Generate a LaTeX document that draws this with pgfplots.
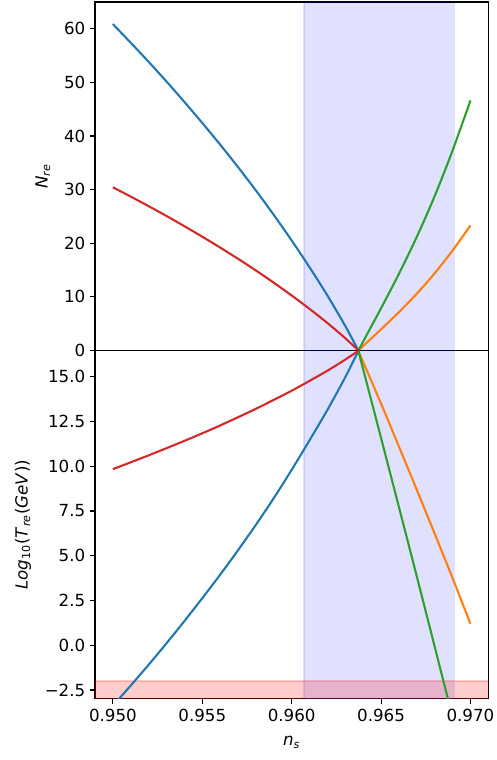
\documentclass[border=0pt]{standalone}
\usepackage{fontspec}
\setmainfont{DejaVu Sans}
\usepackage{pgfplots}
\pgfplotsset{compat=1.18}
\usetikzlibrary{calc}
\definecolor{c0}{HTML}{1F77B4}
\definecolor{c1}{HTML}{FF7F0E}
\definecolor{c2}{HTML}{2CA02C}
\definecolor{c3}{HTML}{D62728}
\begin{document}
\begin{tikzpicture}
\pgfplotsset{
  common/.style={
    scale only axis, width=283.2pt, height=250.9pt,
    xmin=0.949, xmax=0.971,
    axis line style={line width=0.8pt, black},
    tick style={line width=0.8pt, black},
    tick align=outside, major tick length=3.5pt,
    ytick pos=left,
    /pgf/number format/assume math mode=true,
    every tick label/.append style={font=\fontsize{12}{14}\selectfont},
    label style={font=\fontsize{12}{14}\selectfont},
    ylabel style={yshift=3pt},
    xlabel style={yshift=-4pt},
    every axis plot/.append style={line width=1.5pt, line join=round},
  },
  span/.style={fill=blue, fill opacity=0.12, draw=blue, draw opacity=0.12, line width=1pt},
}
\begin{axis}[common, name=top, ymin=0, ymax=65, ytick={0,10,20,30,40,50,60},
  xtick=\empty,
  ylabel={\textit{N}\textsubscript{\textit{re}}}]
\addplot[span] coordinates {(0.9607,0) (0.9691,0) (0.9691,65) (0.9607,65)} -- cycle;
% blue
\addplot[c0, smooth] coordinates {(0.950,60.88) (0.951,57.40) (0.952,53.84) (0.953,50.16) (0.954,46.36) (0.955,42.44) (0.956,38.40) (0.957,34.20) (0.958,29.84) (0.959,25.28) (0.960,20.52) (0.961,15.52) (0.962,10.24) (0.963,4.56) (0.96373,0)};
% orange
\addplot[c1, smooth] coordinates {(0.96373,0) (0.965,3.94) (0.966,7.15) (0.967,10.60) (0.968,14.40) (0.969,18.65) (0.970,23.32)};
% green
\addplot[c2, smooth] coordinates {(0.96373,0) (0.965,7.88) (0.966,14.30) (0.967,21.20) (0.968,28.80) (0.969,37.30) (0.970,46.64)};
% red
\addplot[c3, smooth] coordinates {(0.950,30.44) (0.951,28.70) (0.952,26.92) (0.953,25.08) (0.954,23.18) (0.955,21.22) (0.956,19.20) (0.957,17.10) (0.958,14.92) (0.959,12.64) (0.960,10.26) (0.961,7.76) (0.962,5.12) (0.963,2.28) (0.96373,0)};
\end{axis}
\begin{axis}[common, name=bot, at={(top.south west)}, anchor=north west,
  ymin=-3, ymax=16.47,
  ytick={-2.5,0,2.5,5,7.5,10,12.5,15},
  yticklabels={−2.5,0.0,2.5,5.0,7.5,10.0,12.5,15.0},
  xtick={0.950,0.955,0.960,0.965,0.970},
  xticklabels={0.950,0.955,0.960,0.965,0.970},
  xtick pos=bottom,
  xlabel={\textit{n}\textsubscript{\textit{s}}},
  ylabel={\textit{Log}\textsubscript{10}(\textit{T}\textsubscript{\textit{re}}(\textit{GeV}))}]
\addplot[span] coordinates {(0.9607,-3) (0.9691,-3) (0.9691,16.47) (0.9607,16.47)} -- cycle;
\addplot[fill=red, fill opacity=0.2, draw=red, draw opacity=0.2, line width=1pt] coordinates {(0.949,-3) (0.971,-3) (0.971,-2) (0.949,-2)} -- cycle;
% blue
\addplot[c0, smooth] coordinates {(0.950,-3.38) (0.951,-2.25) (0.952,-1.09) (0.953,0.11) (0.954,1.35) (0.955,2.63) (0.956,3.94) (0.957,5.31) (0.958,6.73) (0.959,8.22) (0.960,9.80) (0.961,11.45) (0.962,13.15) (0.963,14.98) (0.96373,16.45)};
% orange
\addplot[c1, smooth] coordinates {(0.96373,16.45) (0.965,13.50) (0.966,11.10) (0.967,8.68) (0.968,6.23) (0.969,3.75) (0.970,1.20)};
% green
\addplot[c2, smooth] coordinates {(0.96373,16.45) (0.965,11.58) (0.966,7.72) (0.967,3.84) (0.968,-0.08) (0.969,-4.02) (0.970,-7.94)};
% red
\addplot[c3, smooth] coordinates {(0.950,9.84) (0.951,10.22) (0.952,10.61) (0.953,11.01) (0.954,11.42) (0.955,11.84) (0.956,12.28) (0.957,12.74) (0.958,13.21) (0.959,13.71) (0.960,14.22) (0.961,14.77) (0.962,15.34) (0.963,15.96) (0.96373,16.45)};
\end{axis}
\pgfresetboundingbox
\path[use as bounding box] ($(top.north west)+(-68.4pt,1.44pt)$) rectangle ($(top.north west)+(289.4pt,-545.76pt)$);
\end{tikzpicture}
\end{document}
